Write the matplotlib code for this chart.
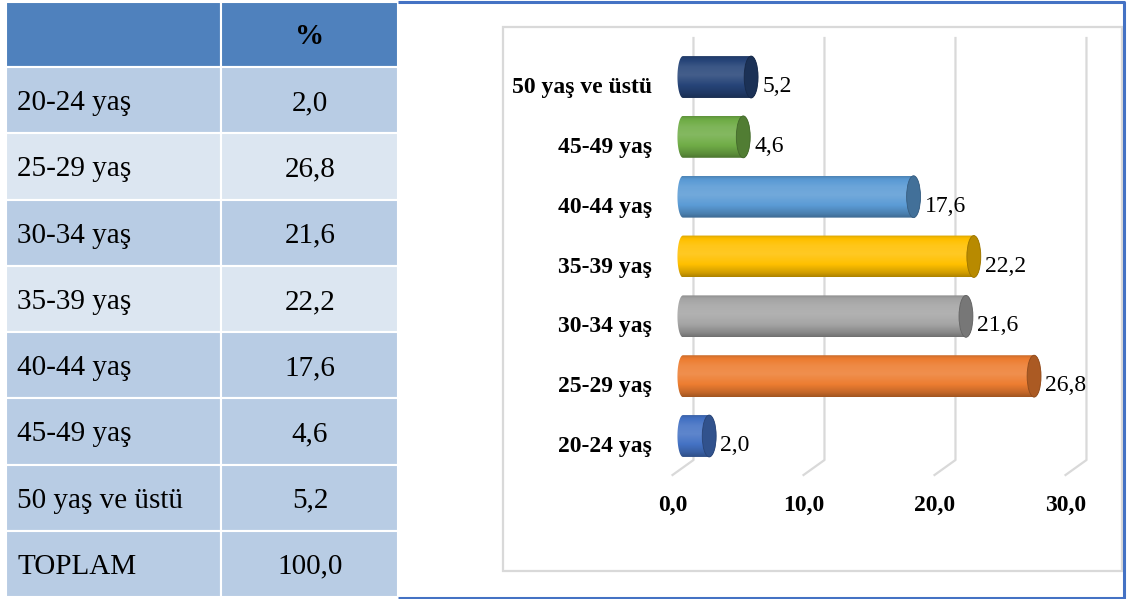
import numpy as np
import matplotlib
matplotlib.use("Agg")
import matplotlib.pyplot as plt
from matplotlib.patches import Rectangle, Ellipse, PathPatch
from matplotlib.path import Path
from matplotlib.colors import to_rgb

plt.rcParams['font.family'] = ['Liberation Serif', 'DejaVu Serif']

# yaş grupları ve yüzdeleri
age_groups = ['20-24 yaş', '25-29 yaş', '30-34 yaş', '35-39 yaş',
              '40-44 yaş', '45-49 yaş', '50 yaş ve üstü']
percent = [2.0, 26.8, 21.6, 22.2, 17.6, 4.6, 5.2]
total_label = 'TOPLAM'
total_value = 100.0
bar_colors = ['#4472c4', '#ed7d31', '#a5a5a5', '#ffc000',
              '#5b9bd5', '#70ad47', '#264478']
x_ticks = [0, 10, 20, 30]


def fmt(v):
    return f"{v:.1f}".replace('.', ',')


W, H = 1127, 599
fig = plt.figure(figsize=(W / 100, H / 100), dpi=100)

# arka plan: piksel koordinatlı eksen (tablo + çerçeve)
bg = fig.add_axes([0, 0, 1, 1])
bg.set_xlim(0, W)
bg.set_ylim(H, 0)
bg.axis('off')

head_col = '#4f81bd'
dark = '#b8cce4'
light = '#dce6f1'
col_x = [6, 221, 398]
row_y = [2, 67] + [67 + 66.25 * (i + 1) for i in range(8)]
row_fill = [dark, light, dark, light, dark, dark, dark, dark]

# başlık satırı
for c in range(2):
    bg.add_patch(Rectangle((col_x[c], row_y[0]), col_x[c + 1] - col_x[c],
                           row_y[1] - row_y[0], fc=head_col, ec='white', lw=1.5))
bg.text(310, 44.5, '%', ha='center', va='baseline', fontsize=21, fontweight='bold')

labels = age_groups + [total_label]
values = percent + [total_value]
for i in range(8):
    y0, y1 = row_y[i + 1], row_y[i + 2]
    for c in range(2):
        bg.add_patch(Rectangle((col_x[c], y0), col_x[c + 1] - col_x[c], y1 - y0,
                               fc=row_fill[i], ec='white', lw=1.5))
    yb = (y0 + y1) / 2 + 10
    bg.text(17, yb, labels[i], ha='left', va='baseline', fontsize=21)
    bg.text(310, yb, fmt(values[i]), ha='center', va='baseline', fontsize=21)

# grafik çerçevesi
bg.add_patch(Rectangle((503, 27), 619, 544, fc='none', ec='#d9d9d9', lw=1.6))
bg.plot([398, 1123.5, 1123.5, 398], [1.5, 1.5, 597.5, 597.5],
        color='#4472c4', lw=2.2, solid_capstyle='butt')

# grafik ekseni
x0px, pxu = 683, 13.1
yc0, pyu = 436, 59.83
ax = fig.add_axes([500 / W, 1 - 530 / H, 615 / W, 500 / H])
ax.axis('off')
xlim = ((500 - x0px) / pxu, (1115 - x0px) / pxu)
ylim = ((yc0 - 530) / pyu, (yc0 - 30) / pyu)

# 3B kılavuz çizgileri (arka duvar + taban)
dep = 0.8
y_top, y_back, y_front = (yc0 - 38) / pyu, (yc0 - 460) / pyu, (yc0 - 475) / pyu
for t in x_ticks:
    ax.plot([t + dep, t + dep, t - dep], [y_top, y_back, y_front],
            color='#d9d9d9', lw=1.6, zorder=1)
    ax.annotate(fmt(t), (t - dep, y_front), xytext=(0, -36),
                textcoords='offset pixels', ha='center', va='baseline',
                fontsize=17, fontweight='bold', annotation_clip=False)


def shade(base, n=80):
    base = np.array(to_rgb(base))
    t = np.linspace(0, 1, n)
    f = np.interp(t, [0, 0.06, 0.25, 0.45, 0.7, 0.9, 1.0],
                  [0.85, 0.97, 1.1, 1.14, 1.0, 0.82, 0.68])
    rows = []
    for k in f:
        if k >= 1:
            rows.append(base + (1 - base) * (k - 1))
        else:
            rows.append(base * k)
    return np.clip(np.array(rows), 0, 1)[:, None, :]


a, h = 0.53, 0.35
th_l = np.linspace(np.pi / 2, 3 * np.pi / 2, 40)
th_r = np.linspace(-np.pi / 2, np.pi / 2, 40)
for i, (lab, v, col) in enumerate(zip(age_groups, percent, bar_colors)):
    yc = i
    xs = np.concatenate([0.8 * a * np.cos(th_l), v + a * np.cos(th_r)])
    ys = np.concatenate([yc + h * np.sin(th_l), yc + h * np.sin(th_r)])
    body = PathPatch(Path(np.column_stack([xs, ys])), fc='none', ec='none',
                     transform=ax.transData)
    ax.add_patch(body)
    im = ax.imshow(shade(col), extent=(-a, v + a, yc - h, yc + h), aspect='auto',
                   origin='upper', interpolation='bilinear', zorder=3)
    im.set_clip_path(body)
    base = np.array(to_rgb(col))
    ax.add_patch(Ellipse((v, yc), 2 * a, 2 * h, fc=base * 0.72,
                         ec=base * 0.6, lw=0.6, zorder=4))
    ax.annotate(fmt(v), (v + a, yc), xytext=(4, -15), textcoords='offset pixels',
                ha='left', va='baseline', fontsize=17, zorder=5)
    ax.annotate(lab, (-a, yc), xytext=(-24, -16), textcoords='offset pixels',
                ha='right', va='baseline', fontsize=17, fontweight='bold')

ax.set_xlim(*xlim)
ax.set_ylim(*ylim)

fig.savefig('out.png', dpi=100)
